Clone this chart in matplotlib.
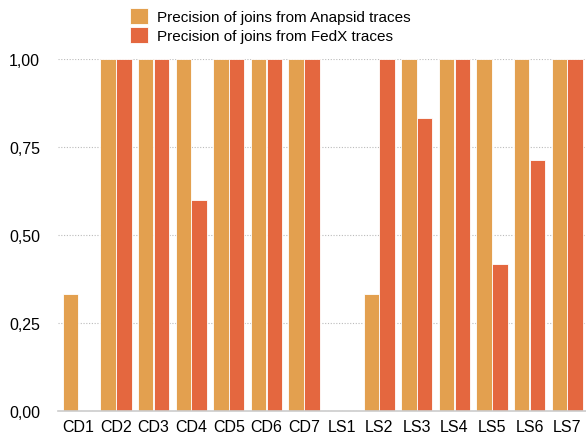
import numpy as np
import matplotlib.pyplot as plt
from matplotlib.ticker import FuncFormatter

plt.rcParams['font.family'] = ['Liberation Sans', 'DejaVu Sans']

queries = ["CD1", "CD2", "CD3", "CD4", "CD5", "CD6", "CD7",
           "LS1", "LS2", "LS3", "LS4", "LS5", "LS6", "LS7"]
anapsid = [0.333, 1, 1, 1, 1, 1, 1, 0, 0.333, 1, 1, 1, 1, 1]
fedx = [0, 1, 1, 0.6, 1, 1, 1, 0, 1, 0.833, 1, 0.417, 0.714, 1]

barThick = 0.41
x = np.arange(len(queries))

fig = plt.figure(figsize=(5.86, 4.39), dpi=100)
ax = fig.add_axes([58 / 586, 27 / 439, 528 / 586, 352 / 439])

ax.bar(x - 0.21, anapsid, width=barThick, color="#E3A04F", edgecolor="white",
       linewidth=0.6, label="Precision of joins from Anapsid traces", zorder=2)
ax.bar(x + 0.21, fedx, width=barThick, color="#E4673F", edgecolor="white",
       linewidth=0.6, label="Precision of joins from FedX traces", zorder=2)

ax.set_xlim(-0.545, 13.5)
ax.set_ylim(0, 1)
ax.set_yticks([0, 0.25, 0.5, 0.75, 1.0])
ax.yaxis.set_major_formatter(FuncFormatter(lambda v, p: f"{v:.2f}".replace(".", ",")))
ax.set_xticks(x)
ax.set_xticklabels(queries)
ax.tick_params(axis="both", length=0, labelsize=11.5, colors="black")
ax.tick_params(axis="y", pad=13)
ax.tick_params(axis="x", pad=6)
ax.grid(axis="y", color="#bbbbbb", linestyle=(0, (1, 1.5)), linewidth=0.8, zorder=0)
for s in ["top", "right", "left"]:
    ax.spines[s].set_visible(False)
ax.spines["bottom"].set_color("#cccccc")
ax.spines["bottom"].set_linewidth(1.2)
ax.spines["bottom"].set_zorder(3)

fig.legend(loc="upper left", bbox_to_anchor=(120 / 586, 1.003), frameon=False,
           fontsize=11, handlelength=1.2, handleheight=1.25, handletextpad=0.6,
           labelspacing=0.2, borderaxespad=0.25)

fig.savefig("out.png", dpi=100)
